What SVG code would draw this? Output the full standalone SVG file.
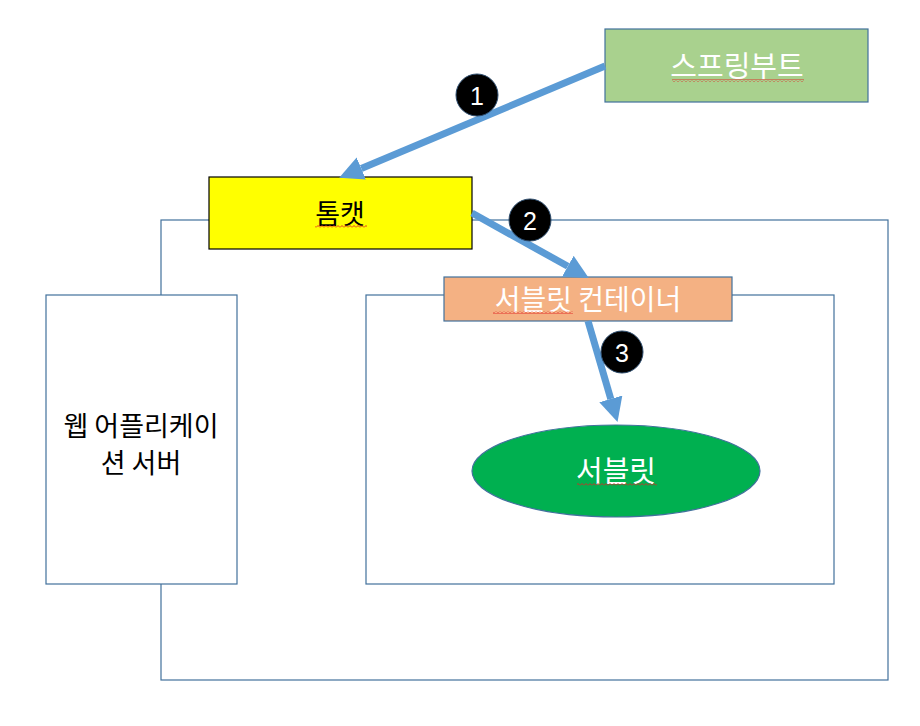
<svg xmlns="http://www.w3.org/2000/svg" width="920" height="726" viewBox="0 0 920 726">
<style>
.frame{fill:#fff;stroke:#41719C;stroke-width:1.2}
.lbl{font-family:"Noto Sans CJK KR","Noto Sans",sans-serif;font-size:24px;text-anchor:middle;dominant-baseline:central}
.w{fill:#fff}
.k{fill:#000}
.conn{stroke:#5B9BD5;stroke-width:7;fill:none}
.badge{fill:#000;stroke:#2E4D6E;stroke-width:1}
.num{font-family:"Liberation Sans","Noto Sans",sans-serif;font-size:25px;fill:#fff;text-anchor:middle;dominant-baseline:central}
.sq{fill:url(#squig)}
</style>
<defs>
<marker id="ah" markerUnits="userSpaceOnUse" markerWidth="24" markerHeight="24" viewBox="0 0 24 24" refX="0" refY="12" orient="auto">
<path d="M0,0 L24,12 L0,24 z" fill="#5B9BD5"/>
</marker>
<pattern id="squig" patternUnits="userSpaceOnUse" width="4" height="3">
<polyline points="0,2.5 2,0.5 4,2.5" fill="none" stroke="#E02020" stroke-width="0.9"/>
</pattern>
</defs>
<rect width="920" height="726" fill="#fff"/>
<g id="web-server-outer">
<rect class="frame" x="161" y="220" width="727" height="460" fill="none"/>
</g>
<g id="web-app-server">
<rect class="frame" x="46" y="295" width="191" height="289"/>
<text class="lbl k" x="141" y="424" style="font-size:27px">웹 어플리케이</text>
<text class="lbl k" x="141" y="461" style="font-size:27px">션 서버</text>
</g>
<g id="container-area">
<rect class="frame" x="366" y="295" width="468" height="289"/>
</g>
<g id="spring-boot">
<rect x="605" y="29" width="263" height="73" fill="#A9D18E" stroke="#41719C" stroke-width="1.2"/>
<text class="lbl w" x="737" y="64" style="font-size:29px">스프링부트</text>
<rect class="sq" x="672" y="79" width="132" height="3"/>
</g>
<g id="tomcat">
<rect x="209" y="177" width="263" height="72" fill="#FFFF00" stroke="#000" stroke-width="1.2"/>
<text class="lbl k" x="340" y="212" style="font-size:27px">톰캣</text>
<rect class="sq" x="315" y="225" width="52" height="3"/>
</g>
<g id="servlet-container">
<rect x="444" y="277" width="288" height="44" fill="#F4B183" stroke="#41719C" stroke-width="1.2"/>
<text class="lbl w" x="588" y="298" style="font-size:28px">서블릿 컨테이너</text>
<rect class="sq" x="493" y="311" width="80" height="3"/>
</g>
<g id="servlet">
<ellipse cx="616" cy="471" rx="144" ry="46" fill="#00B050" stroke="#41719C" stroke-width="1.2"/>
<text class="lbl w" x="616" y="469" style="font-size:29px">서블릿</text>
<rect class="sq" x="577" y="483" width="80" height="3"/>
</g>
<g id="connectors">
<line class="conn" x1="605" y1="66" x2="361.3" y2="168.5" marker-end="url(#ah)"/>
<line class="conn" x1="472" y1="213" x2="567.8" y2="266.3" marker-end="url(#ah)"/>
<line class="conn" x1="588" y1="321" x2="610.8" y2="398.9" marker-end="url(#ah)"/>
</g>
<g id="badge-1">
<circle class="badge" cx="477" cy="95" r="21"/>
<text class="num" x="477" y="96">1</text>
</g>
<g id="badge-2">
<circle class="badge" cx="530" cy="220" r="21"/>
<text class="num" x="530" y="221">2</text>
</g>
<g id="badge-3">
<circle class="badge" cx="622" cy="352" r="21"/>
<text class="num" x="622" y="353">3</text>
</g>
</svg>
